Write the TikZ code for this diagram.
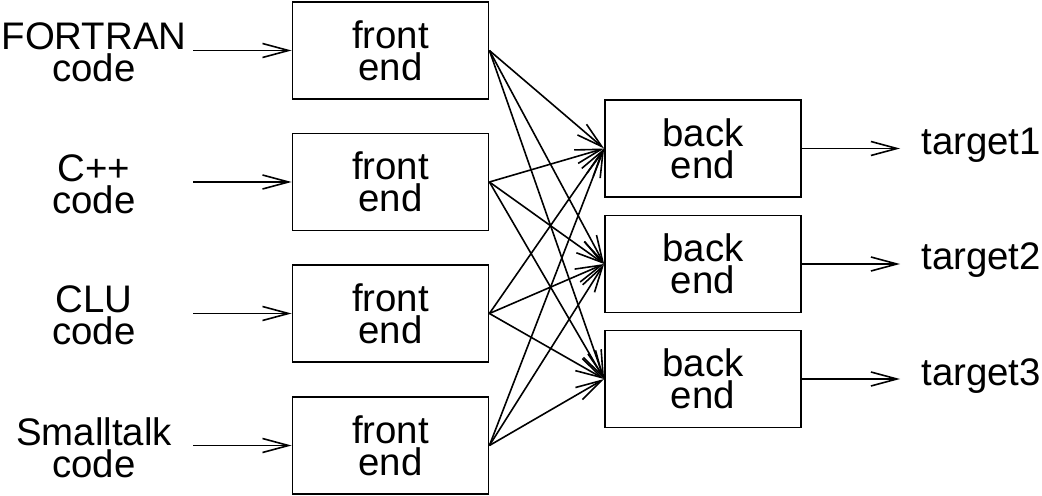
\documentclass[tikz,border=0pt]{standalone}
\usepackage{fontspec}
\setmainfont{Liberation Sans}
\usetikzlibrary{arrows.meta}
\tikzstyle{Box}=[draw,line width=.9pt,minimum width=98pt,minimum height=48.5pt,
inner sep=0pt,align=center,font=\fontsize{19.2}{16}\selectfont]
\tikzstyle{Source}=[align=center,inner sep=0pt,font=\fontsize{19.2}{16}\selectfont]
\tikzstyle{Target}=[anchor=base west,inner xsep=10.5pt,inner ysep=0pt,
font=\fontsize{19.2}{16}\selectfont]
\tikzstyle{Edge}=[line width=.8pt,-{Straight Barb[length=13pt,width=7pt]}]
\begin{document}
\begin{tikzpicture}[x=.5pt,y=.5pt]
        \useasboundingbox(0,0)rectangle(1042,-496);
        \node[Source](l1)at(94,-52.5){FORTRAN\\code};
        \node[Source](l2)at(94,-184){C++\\code};
        \node[Source](l3)at(94,-315.5){CLU\\code};
        \node[Source](l4)at(94,-447.5){Smalltalk\\code};
        \coordinate(i1)at(193,-50.5);
        \coordinate(i2)at(193,-182);
        \coordinate(i3)at(193,-313.5);
        \coordinate(i4)at(193,-445.5);
        \node[Box](f1)at(390.5,-50.5){front\\end};
        \node[Box](f2)at(390.5,-182){front\\end};
        \node[Box](f3)at(390.5,-313.5){front\\end};
        \node[Box](f4)at(390.5,-445.5){front\\end};
        \node[Box](b1)at(703,-148.5){back\\end};
        \node[Box](b2)at(703,-264){back\\end};
        \node[Box](b3)at(703,-379){back\\end};
        \node[Target](t1)at(900,-155){target1};
        \node[Target](t2)at(900,-270){target2};
        \node[Target](t3)at(900,-385){target3};
        \draw[Edge](i1)--(f1);
        \draw[Edge](i2)--(f2);
        \draw[Edge](i3)--(f3);
        \draw[Edge](i4)--(f4);
        \draw[Edge](f1.east)--(b1.west);
        \draw[Edge](f1.east)--(b2.west);
        \draw[Edge](f1.east)--(b3.west);
        \draw[Edge](f2.east)--(b1.west);
        \draw[Edge](f2.east)--(b2.west);
        \draw[Edge](f2.east)--(b3.west);
        \draw[Edge](f3.east)--(b1.west);
        \draw[Edge](f3.east)--(b2.west);
        \draw[Edge](f3.east)--(b3.west);
        \draw[Edge](f4.east)--(b1.west);
        \draw[Edge](f4.east)--(b2.west);
        \draw[Edge](f4.east)--(b3.west);
        \draw[Edge](b1.east)--(b1.east-|t1.west);
        \draw[Edge](b2.east)--(b2.east-|t2.west);
        \draw[Edge](b3.east)--(b3.east-|t3.west);
    \end{tikzpicture}
\end{document}
